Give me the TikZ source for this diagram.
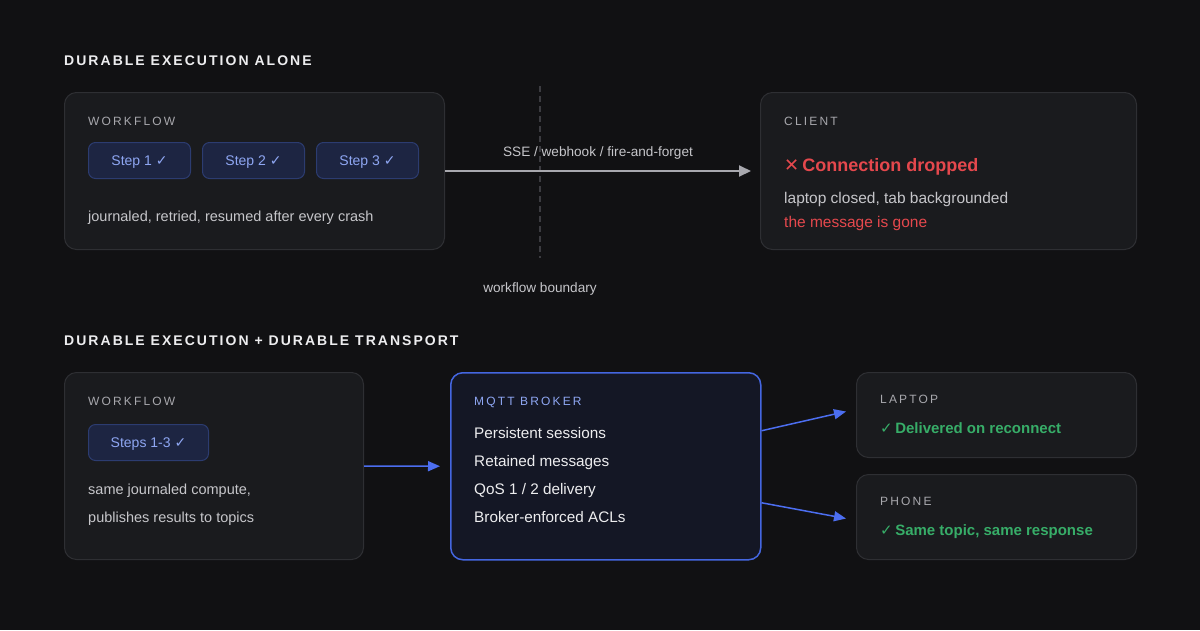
\documentclass[tikz,border=0pt]{standalone}
\usepackage{fontspec}
\setmainfont{Liberation Sans}
\newfontfamily\symf{DejaVu Sans}
\newfontfamily\capsf[LetterSpace=18]{Liberation Sans}
\newfontfamily\titlef[LetterSpace=14.5]{Liberation Sans}
\usetikzlibrary{arrows.meta,calc}
\definecolor{bgc}{HTML}{111113}
\definecolor{cardfill}{HTML}{1A1B1E}
\definecolor{cardline}{HTML}{2E2F33}
\definecolor{titlec}{HTML}{EDEDEF}
\definecolor{labelc}{HTML}{A8A8AD}
\definecolor{bodyc}{HTML}{C6C6CA}
\definecolor{pillfill}{HTML}{1D2542}
\definecolor{pillline}{HTML}{2C3C70}
\definecolor{pilltext}{HTML}{8EA6F2}
\definecolor{redc}{HTML}{E5484D}
\definecolor{greenc}{HTML}{37AD68}
\definecolor{bluec}{HTML}{4C6EF0}
\definecolor{brokerfill}{HTML}{141725}
\definecolor{brokerline}{HTML}{4466E0}
\definecolor{arrowgray}{HTML}{A8A8AE}
\definecolor{dashc}{HTML}{3C3C41}
\newcommand{\ck}{{\symf ✓}}
\newcommand{\crossmark}{{\symf ✕}}
\begin{document}
\begin{tikzpicture}[x=1pt,y=-1pt,
  card/.style={draw=cardline, fill=cardfill, rounded corners=12pt, line width=1pt, anchor=north west, inner sep=0pt},
  broker/.style={draw=brokerline, fill=brokerfill, rounded corners=12pt, line width=1.5pt, anchor=north west, inner sep=0pt},
  pill/.style={draw=pillline, fill=pillfill, rounded corners=7pt, line width=1pt, minimum height=36pt, anchor=north west, text=pilltext, font=\fontsize{14}{16}\selectfont},
  pilltxt/.style={anchor=base, inner sep=0pt, text=pilltext, font=\fontsize{14}{16}\selectfont},
  lbl/.style={anchor=base west, inner sep=0pt, text=labelc, font=\capsf\fontsize{12}{14}\selectfont},
  ttl/.style={anchor=base west, inner sep=0pt, text=titlec, font=\titlef\bfseries\fontsize{14}{16}\selectfont},
  body/.style={anchor=base west, inner sep=0pt, text=bodyc, font=\fontsize{14.5}{16}\selectfont},
  bodyl/.style={anchor=base west, inner sep=0pt, text=bodyc, font=\fontsize{15.5}{17}\selectfont},
  note/.style={anchor=base, inner sep=0pt, text=bodyc, font=\fontsize{13.6}{15}\selectfont},
  garrow/.style={draw=arrowgray, line width=2pt, -{Triangle[length=12pt,width=11pt]}},
  barrow/.style={draw=bluec, line width=1.5pt, -{Triangle[length=12pt,width=10pt]}},
]
\fill[bgc] (0,0) rectangle (1200,630);
\useasboundingbox (0,0) rectangle (1200,630);

% ---------- Section 1 ----------
\node[ttl] (t1) at (64,65) {DURABLE EXECUTION ALONE};

\coordinate (bt) at (540,86);
\coordinate (bb) at (540,258);
\draw[dashc, line width=1.5pt, dash pattern=on 6pt off 4pt] (bt) -- (bb);

\node[card, minimum width=380pt, minimum height=157pt] (wf1) at (64,92) {};
\node[lbl] (wf1l) at (88,125) {WORKFLOW};
\node[pill, minimum width=102pt] (s1) at (88,142) {};
\node[pilltxt] (s1t) at ($(s1.center)+(0,5.2)$) {Step 1 \ck};
\node[pill, minimum width=102pt] (s2) at (202,142) {};
\node[pilltxt] (s2t) at ($(s2.center)+(0,5.2)$) {Step 2 \ck};
\node[pill, minimum width=102pt] (s3) at (316,142) {};
\node[pilltxt] (s3t) at ($(s3.center)+(0,5.2)$) {Step 3 \ck};
\node[body] (wf1b) at (88,221) {journaled, retried, resumed after every crash};

\node[card, minimum width=376pt, minimum height=157pt] (client) at (760,92) {};
\node[lbl] (cl) at (784,125) {CLIENT};
\node[anchor=base west, inner sep=0pt, text=redc, font=\bfseries\fontsize{18}{20}\selectfont] (cd) at (784,171.5) {\crossmark\,Connection dropped};
\node[bodyl] (cb1) at (784,203.5) {laptop closed, tab backgrounded};
\node[bodyl, text=redc] (cb2) at (784,227.5) {the message is gone};

\draw[garrow, shorten >=9pt] (wf1.east) -- (client.west);
\node[note] (sse) at (598,156) {SSE / webhook / fire-and-forget};
\node[note] (wb) at (540,292) {workflow boundary};

% ---------- Section 2 ----------
\node[ttl] (t2) at (64,345) {DURABLE EXECUTION + DURABLE TRANSPORT};

\node[card, minimum width=299pt, minimum height=187pt] (wf2) at (64,372) {};
\node[lbl] (wf2l) at (88,405) {WORKFLOW};
\node[pill, minimum width=120pt] (s13) at (88,424) {};
\node[pilltxt] (s13t) at ($(s13.center)+(0,5.2)$) {Steps 1-3 \ck};
\node[body] (wf2b1) at (88,494) {same journaled compute,};
\node[body] (wf2b2) at (88,522) {publishes results to topics};

\node[broker, minimum width=310pt, minimum height=187pt] (br) at (450,372) {};
\node[lbl, text=pilltext] (brl) at (474,405) {MQTT BROKER};
\node[bodyl, text=titlec, font=\fontsize{15.3}{17}\selectfont] (br1) at (474,438.5) {Persistent sessions};
\node[bodyl, text=titlec, font=\fontsize{15.3}{17}\selectfont] (br2) at (474,466.5) {Retained messages};
\node[bodyl, text=titlec, font=\fontsize{15.3}{17}\selectfont] (br3) at (474,494.5) {QoS 1 / 2 delivery};
\node[bodyl, text=titlec, font=\fontsize{15.3}{17}\selectfont] (br4) at (474,522.5) {Broker-enforced ACLs};

\node[card, minimum width=280pt, minimum height=85pt] (lap) at (856,372) {};
\node[lbl] (lapl) at (880,403) {LAPTOP};
\node[anchor=base west, inner sep=0pt, text=greenc, font=\bfseries\fontsize{15}{17}\selectfont] (lapt) at (880,433) {\ck\,Delivered on reconnect};

\node[card, minimum width=280pt, minimum height=85pt] (ph) at (856,474) {};
\node[lbl] (phl) at (880,505) {PHONE};
\node[anchor=base west, inner sep=0pt, text=greenc, font=\bfseries\fontsize{15}{17}\selectfont] (pht) at (880,535) {\ck\,Same topic, same response};

\draw[barrow, shorten >=10pt] (wf2.east) -- (br.west);
\draw[barrow] ($(br.east)+(0,-35.5)$) -- ($(lap.west)+(-10,-3.5)$);
\draw[barrow] ($(br.east)+(0,36.5)$) -- ($(ph.west)+(-10,1.5)$);
\end{tikzpicture}
\end{document}
